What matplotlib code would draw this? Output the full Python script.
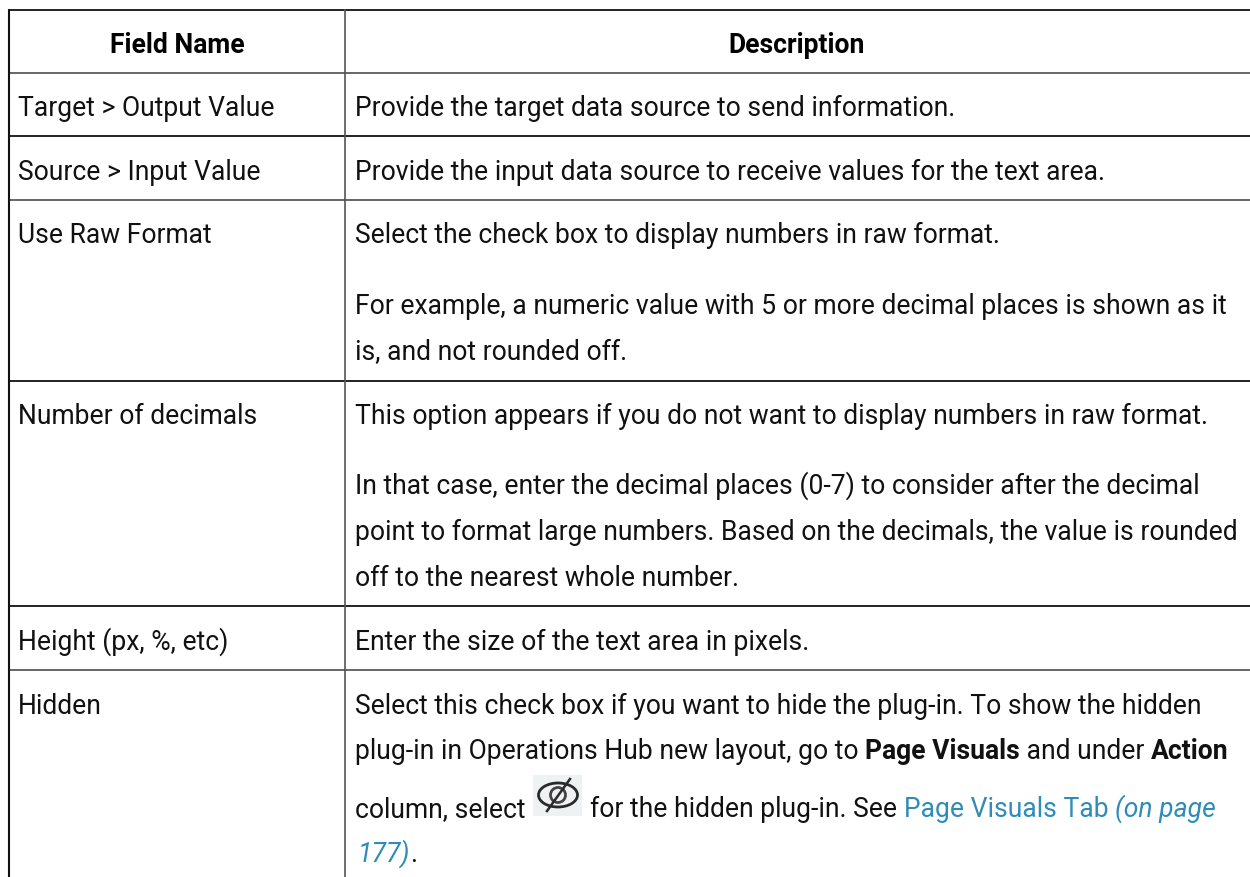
import matplotlib
matplotlib.use("Agg")
import matplotlib.pyplot as plt
from matplotlib.patches import Rectangle, Ellipse, Circle

# ------------------------------------------------------------
# Table content
# ------------------------------------------------------------
headers = ["Field Name", "Description"]

field_names = [
    "Target > Output Value",
    "Source > Input Value",
    "Use Raw Format",
    "Number of decimals",
    "Height (px, %, etc)",
    "Hidden",
]

plain_lines = [
    "Provide the target data source to send information.",
    "Provide the input data source to receive values for the text area.",
    "Select the check box to display numbers in raw format.",
    "For example, a numeric value with 5 or more decimal places is shown as it",
    "is, and not rounded off.",
    "This option appears if you do not want to display numbers in raw format.",
    "In that case, enter the decimal places (0-7) to consider after the decimal",
    "point to format large numbers. Based on the decimals, the value is rounded",
    "off to the nearest whole number.",
    "Enter the size of the text area in pixels.",
    "Select this check box if you want to hide the plug-in. To show the hidden",
]

# (text, weight, style, colour) runs for the mixed lines of the last row
TXT = "#111111"
LINK = "#2f8cb8"
hidden_line2 = [
    ("plug-in in Operations Hub new layout, go to ", "normal", "normal", TXT),
    ("Page Visuals", "bold", "normal", TXT),
    (" and under ", "normal", "normal", TXT),
    ("Action", "bold", "normal", TXT),
]
hidden_line3a = [("column, select", "normal", "normal", TXT)]
hidden_line3b = [
    ("for the hidden plug-in. See ", "normal", "normal", TXT),
    ("Page Visuals Tab", "normal", "normal", LINK),
    (" ", "normal", "normal", LINK),
    ("(on page", "normal", "italic", LINK),
]
hidden_line4 = [
    ("177)", "normal", "italic", LINK),
    (".", "normal", "normal", TXT),
]

# y of horizontal rules and text baselines, px from the top
row_lines = [11, 74, 137, 201, 382, 607, 671]
row_colors = ["#222222", "#666666", "#222222", "#666666", "#222222", "#222222", "#666666"]
header_y = 53
field_y = [116, 180, 243, 424, 650, 714]
plain_y = [116, 180, 243, 314, 360, 424, 494, 540, 586, 650, 714]
line2_y = 759
line3_y = 817
line4_y = 862

# ------------------------------------------------------------
# Figure in pixel coordinates
# ------------------------------------------------------------
plt.rcParams["font.family"] = ["Roboto", "DejaVu Sans"]

fig = plt.figure(figsize=(12.5, 8.78), dpi=100)
ax = fig.add_axes([0, 0, 1, 1])
ax.set_xlim(0, 1250)
ax.set_ylim(878, 0)
ax.axis("off")

FS = 19.1
col_x = 345
left_x = 9
field_x = 18
desc_x = 355


def draw_runs(x, y, runs):
    # place text pieces one after the other using their rendered width
    rend = fig.canvas.get_renderer()
    for s, weight, style, color in runs:
        ax.text(x, y, s, ha="left", va="baseline", fontsize=FS,
                weight=weight, style=style, color=color)
        # trailing spaces are not measured, so measure with a stand-in
        probe = ax.text(0, 0, s.replace(" ", "\u00a0"), fontsize=FS, weight=weight, style=style)
        x += probe.get_window_extent(rend).width
        probe.remove()
    return x


# ------------------------------------------------------------
# Rules
# ------------------------------------------------------------
for y, c in zip(row_lines, row_colors):
    ax.plot([left_x, 1250], [y, y], color=c, lw=1.4, solid_capstyle="butt")
ax.plot([left_x, left_x], [10, 878], color="#111111", lw=1.5, solid_capstyle="butt")
ax.plot([col_x, col_x], [10, 878], color="#555555", lw=1.2, solid_capstyle="butt")

# ------------------------------------------------------------
# Text
# ------------------------------------------------------------
ax.text(177, header_y, headers[0], ha="center", va="baseline", fontsize=FS, weight="bold", color="black")
ax.text(797, header_y, headers[1], ha="center", va="baseline", fontsize=FS, weight="bold", color="black")

for name, y in zip(field_names, field_y):
    ax.text(field_x, y, name, ha="left", va="baseline", fontsize=FS, color=TXT)

for s, y in zip(plain_lines, plain_y):
    ax.text(desc_x, y, s, ha="left", va="baseline", fontsize=FS, color=TXT)

draw_runs(desc_x, line2_y, hidden_line2)
draw_runs(desc_x, line3_y, hidden_line3a)
draw_runs(590, line3_y, hidden_line3b)
draw_runs(desc_x + 3, line4_y, hidden_line4)

# ------------------------------------------------------------
# Hide icon
# ------------------------------------------------------------
ax.add_patch(Rectangle((533, 776), 49, 41, facecolor="#eef2f3", edgecolor="none"))
ax.add_patch(Ellipse((558, 796), 39, 24, facecolor="none", edgecolor="#2a2a2a", lw=2.0))
ax.add_patch(Circle((558, 796), 7.5, facecolor="none", edgecolor="#444444", lw=2.0))
ax.plot([547, 570], [812, 780], color="#2a2a2a", lw=1.8)

fig.savefig("out.png", dpi=100)
